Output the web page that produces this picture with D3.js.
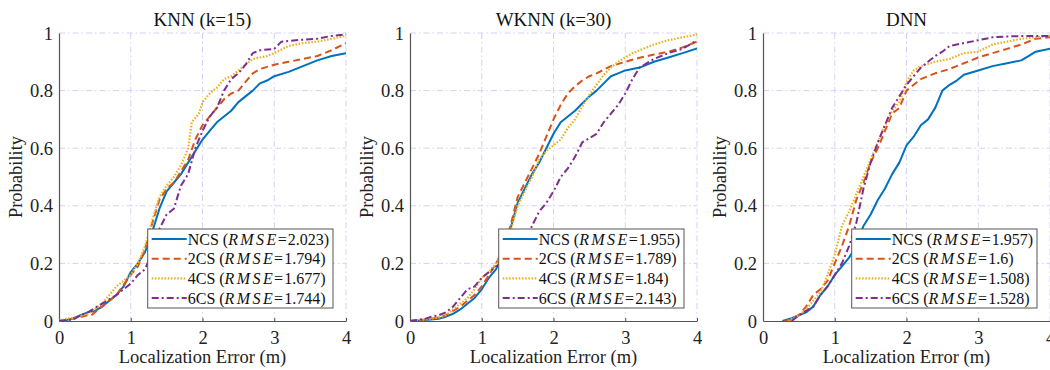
<!DOCTYPE html>
<html><head><meta charset="utf-8">
<script src="https://cdn.jsdelivr.net/npm/d3@7"></script>
<style>
body{margin:0;background:#fff}
svg{display:block}
svg text{font-family:"Liberation Serif","DejaVu Serif","Times New Roman",serif !important;}
</style>
</head><body>
<svg id="c" width="1050" height="370"></svg>
<script>
const titles = ["KNN (k=15)", "WKNN (k=30)", "DNN"];
const seriesNames = ["NCS", "2CS", "4CS", "6CS"];
const xTicks = [0, 1, 2, 3, 4];
const yTicks = [0, 0.2, 0.4, 0.6, 0.8, 1];
const yTickLabels = ["0", "0.2", "0.4", "0.6", "0.8", "1"];
const rmseKNN = ["2.023", "1.794", "1.677", "1.744"];
const rmseWKNN = ["1.955", "1.789", "1.84", "2.143"];
const rmseDNN = ["1.957", "1.6", "1.508", "1.528"];

const knnNCS = [[0,0],[0.1,0.003],[0.2,0.01],[0.3,0.02],[0.4,0.03],[0.5,0.035],[0.6,0.05],[0.7,0.07],[0.8,0.09],[0.9,0.12],[1.0,0.17],[1.1,0.2],[1.2,0.24],[1.3,0.31],[1.4,0.39],[1.5,0.45],[1.6,0.48],[1.7,0.51],[1.8,0.55],[1.9,0.59],[2.0,0.63],[2.1,0.66],[2.2,0.69],[2.3,0.71],[2.4,0.73],[2.5,0.76],[2.6,0.78],[2.7,0.80],[2.8,0.825],[2.9,0.835],[3.0,0.85],[3.2,0.865],[3.4,0.885],[3.6,0.905],[3.8,0.92],[4.0,0.93]];
const knn2CS = [[0,0],[0.2,0.008],[0.4,0.02],[0.45,0.02],[0.6,0.05],[0.8,0.09],[1.0,0.16],[1.1,0.19],[1.2,0.25],[1.3,0.34],[1.4,0.42],[1.5,0.46],[1.6,0.48],[1.7,0.52],[1.8,0.56],[1.9,0.63],[2.0,0.68],[2.1,0.71],[2.2,0.74],[2.3,0.77],[2.4,0.79],[2.5,0.80],[2.6,0.83],[2.7,0.86],[2.8,0.875],[3.0,0.89],[3.2,0.90],[3.4,0.91],[3.6,0.92],[3.8,0.94],[4.0,0.965]];
const knn4CS = [[0,0],[0.1,0.008],[0.2,0.01],[0.4,0.025],[0.6,0.06],[0.8,0.12],[1.0,0.16],[1.1,0.2],[1.2,0.26],[1.3,0.35],[1.4,0.43],[1.5,0.47],[1.6,0.50],[1.7,0.54],[1.8,0.6],[1.85,0.69],[1.95,0.72],[2.0,0.76],[2.1,0.79],[2.2,0.81],[2.3,0.84],[2.4,0.85],[2.5,0.87],[2.6,0.89],[2.7,0.91],[2.9,0.92],[3.0,0.93],[3.2,0.955],[3.4,0.965],[3.6,0.97],[3.8,0.98],[4.0,0.99]];
const knn6CS = [[0,0],[0.2,0.005],[0.3,0.02],[0.4,0.03],[0.5,0.045],[0.6,0.06],[0.7,0.075],[0.8,0.09],[0.9,0.11],[1.0,0.13],[1.1,0.16],[1.2,0.18],[1.3,0.24],[1.4,0.32],[1.5,0.37],[1.6,0.39],[1.7,0.47],[1.8,0.51],[1.9,0.6],[2.0,0.66],[2.1,0.71],[2.2,0.74],[2.3,0.8],[2.4,0.84],[2.5,0.86],[2.6,0.89],[2.7,0.93],[2.8,0.94],[3.0,0.945],[3.1,0.97],[3.3,0.975],[3.6,0.98],[3.8,0.99],[4.0,0.995]];

const wknnNCS = [[0,0],[0.2,0.003],[0.4,0.008],[0.5,0.015],[0.6,0.025],[0.7,0.04],[0.8,0.06],[0.9,0.08],[1.0,0.11],[1.1,0.15],[1.2,0.18],[1.3,0.23],[1.4,0.32],[1.5,0.41],[1.6,0.46],[1.7,0.51],[1.8,0.55],[1.9,0.6],[2.0,0.65],[2.1,0.69],[2.2,0.71],[2.3,0.73],[2.4,0.755],[2.5,0.78],[2.6,0.8],[2.7,0.825],[2.8,0.85],[2.9,0.86],[3.0,0.87],[3.2,0.88],[3.4,0.90],[3.6,0.915],[3.8,0.93],[4.0,0.946]];
const wknn2CS = [[0,0],[0.2,0.005],[0.4,0.012],[0.5,0.02],[0.6,0.035],[0.7,0.05],[0.8,0.07],[0.9,0.09],[1.0,0.12],[1.1,0.16],[1.2,0.2],[1.3,0.25],[1.4,0.33],[1.5,0.43],[1.6,0.48],[1.7,0.53],[1.8,0.58],[1.9,0.64],[2.0,0.7],[2.1,0.75],[2.2,0.79],[2.3,0.815],[2.4,0.835],[2.5,0.85],[2.6,0.86],[2.8,0.885],[3.0,0.9],[3.2,0.914],[3.4,0.925],[3.6,0.935],[3.8,0.95],[4.0,0.97]];
const wknn4CS = [[0,0],[0.2,0.005],[0.4,0.012],[0.5,0.02],[0.6,0.04],[0.7,0.06],[0.8,0.08],[0.9,0.11],[1.0,0.15],[1.1,0.17],[1.2,0.2],[1.3,0.25],[1.4,0.31],[1.5,0.40],[1.6,0.45],[1.7,0.5],[1.8,0.56],[1.9,0.59],[2.0,0.61],[2.1,0.63],[2.2,0.67],[2.3,0.7],[2.4,0.745],[2.5,0.785],[2.6,0.82],[2.7,0.855],[2.8,0.88],[2.9,0.9],[3.0,0.915],[3.1,0.93],[3.3,0.95],[3.4,0.96],[3.6,0.975],[3.8,0.985],[4.0,0.995]];
const wknn6CS = [[0,0],[0.2,0.007],[0.3,0.015],[0.4,0.02],[0.5,0.03],[0.6,0.05],[0.7,0.08],[0.8,0.11],[0.9,0.12],[1.0,0.15],[1.1,0.17],[1.2,0.19],[1.3,0.2],[1.4,0.22],[1.5,0.24],[1.6,0.27],[1.7,0.33],[1.8,0.38],[1.9,0.41],[2.0,0.45],[2.1,0.5],[2.2,0.53],[2.3,0.57],[2.4,0.62],[2.5,0.635],[2.6,0.65],[2.7,0.69],[2.8,0.72],[2.9,0.75],[3.0,0.79],[3.1,0.84],[3.2,0.88],[3.4,0.91],[3.6,0.93],[3.8,0.945],[4.0,0.975]];

const dnnNCS = [[0.27,0],[0.4,0.01],[0.5,0.02],[0.6,0.03],[0.7,0.05],[0.8,0.09],[0.9,0.12],[1.0,0.16],[1.1,0.19],[1.2,0.22],[1.3,0.26],[1.4,0.33],[1.5,0.37],[1.6,0.42],[1.7,0.46],[1.8,0.51],[1.9,0.55],[2.0,0.61],[2.1,0.64],[2.2,0.68],[2.3,0.7],[2.4,0.74],[2.5,0.8],[2.6,0.82],[2.7,0.835],[2.8,0.855],[3.0,0.87],[3.2,0.885],[3.4,0.895],[3.6,0.905],[3.7,0.92],[3.8,0.935],[4.0,0.945]];
const dnn2CS = [[0.3,0],[0.4,0.005],[0.5,0.02],[0.6,0.05],[0.7,0.09],[0.8,0.11],[0.9,0.14],[1.0,0.2],[1.1,0.26],[1.2,0.33],[1.3,0.42],[1.4,0.48],[1.5,0.55],[1.6,0.6],[1.7,0.66],[1.8,0.72],[1.9,0.74],[2.0,0.8],[2.1,0.82],[2.2,0.84],[2.4,0.86],[2.6,0.875],[2.8,0.895],[3.0,0.915],[3.2,0.93],[3.4,0.945],[3.6,0.96],[3.8,0.98],[4.0,0.985]];
const dnn4CS = [[0.35,0],[0.5,0.02],[0.6,0.04],[0.7,0.07],[0.8,0.1],[0.9,0.16],[1.0,0.23],[1.1,0.33],[1.2,0.38],[1.3,0.44],[1.4,0.5],[1.5,0.56],[1.6,0.62],[1.7,0.68],[1.8,0.73],[1.9,0.76],[2.0,0.83],[2.1,0.87],[2.2,0.885],[2.4,0.9],[2.6,0.91],[2.8,0.93],[3.0,0.935],[3.2,0.96],[3.4,0.97],[3.6,0.98],[3.8,0.985],[4.0,0.99]];
const dnn6CS = [[0.4,0],[0.5,0.02],[0.6,0.035],[0.7,0.05],[0.8,0.09],[0.9,0.12],[1.0,0.16],[1.1,0.2],[1.2,0.26],[1.3,0.34],[1.4,0.46],[1.5,0.55],[1.6,0.62],[1.7,0.68],[1.8,0.74],[1.9,0.78],[2.0,0.82],[2.1,0.85],[2.2,0.88],[2.3,0.9],[2.4,0.92],[2.5,0.935],[2.6,0.955],[2.8,0.965],[3.0,0.975],[3.2,0.985],[3.4,0.988],[3.7,0.99],[4.0,0.99]];

const panels = [
  {title: titles[0], series: [knnNCS, knn2CS, knn4CS, knn6CS], rmse: rmseKNN},
  {title: titles[1], series: [wknnNCS, wknn2CS, wknn4CS, wknn6CS], rmse: rmseWKNN},
  {title: titles[2], series: [dnnNCS, dnn2CS, dnn4CS, dnn6CS], rmse: rmseDNN}
];

const colors = ["#0072BD", "#D95319", "#EDB120", "#7E2F8E"];
const dashes = [null, "7,4", "1.6,1.6", "7,3,2,3"];
const lefts = [59, 410, 763];
const pw = 287, pTop = 33, pBottom = 321;

const svg = d3.select("#c");
svg.append("defs").selectAll("clipPath").data(lefts).join("clipPath")
  .attr("id", (d, i) => "clip" + i)
  .append("rect").attr("x", d => d).attr("y", pTop - 2).attr("width", pw).attr("height", pBottom - pTop + 2);

panels.forEach((p, i) => {
  const L = lefts[i];
  const x = d3.scaleLinear().domain([0, 4]).range([L, L + pw]);
  const y = d3.scaleLinear().domain([0, 1]).range([pBottom, pTop]);
  const g = svg.append("g");

  const grid = g.append("g").attr("stroke", "#d2d2f6").attr("stroke-width", 1)
    .attr("stroke-dasharray", "6,3,1.5,3");
  grid.selectAll(".gx").data(xTicks.filter(t => t > 0)).join("line")
    .attr("x1", d => x(d)).attr("x2", d => x(d)).attr("y1", pTop).attr("y2", pBottom);
  grid.selectAll(".gy").data(yTicks.filter(t => t > 0)).join("line")
    .attr("x1", L).attr("x2", L + pw).attr("y1", d => y(d)).attr("y2", d => y(d));

  const xa = g.append("g").attr("transform", `translate(0,${pBottom})`)
    .call(d3.axisBottom(x).tickValues(xTicks).tickFormat(d3.format("d")).tickSizeInner(-3).tickSizeOuter(0).tickPadding(10));
  const ya = g.append("g").attr("transform", `translate(${L},0)`)
    .call(d3.axisLeft(y).tickValues(yTicks).tickFormat((d, k) => yTickLabels[k]).tickSizeInner(0).tickSizeOuter(0).tickPadding(6));
  [xa, ya].forEach(a => {
    a.attr("font-family", null);
    a.select(".domain").attr("stroke", "#555").attr("stroke-width", 1.2);
    a.selectAll(".tick line").attr("stroke", "#555");
    a.selectAll("text").attr("font-size", 18.5).attr("fill", "#222");
  });
  ya.selectAll("text").attr("dy", "0.33em");

  const line = d3.line().x(d => x(d[0])).y(d => y(d[1]));
  const lg = g.append("g").attr("clip-path", `url(#clip${i})`);
  p.series.forEach((s, k) => {
    lg.append("path").datum(s).attr("d", line).attr("fill", "none")
      .attr("stroke", colors[k]).attr("stroke-width", k === 2 ? 2.2 : 2)
      .attr("stroke-dasharray", dashes[k]).attr("stroke-linejoin", "round");
  });

  g.append("text").attr("x", L + pw / 2).attr("y", 26).attr("text-anchor", "middle")
    .attr("font-size", 19).attr("fill", "#111").text(p.title);
  g.append("text").attr("x", L + pw / 2).attr("y", 363).attr("text-anchor", "middle")
    .attr("font-size", 18.5).attr("fill", "#222").text("Localization Error (m)");
  g.append("text").attr("transform", `translate(${L - 37},${(pTop + pBottom) / 2}) rotate(-90)`)
    .attr("text-anchor", "middle").attr("font-size", 18.5).attr("fill", "#222").text("Probability");

  const leg = g.append("g");
  const box = leg.append("rect").attr("fill", "#fff").attr("stroke", "#555").attr("stroke-width", 1);
  const rowsG = leg.append("g");
  p.series.forEach((s, k) => {
    const ry = 10 + k * 19.7;
    rowsG.append("line").attr("x1", 4).attr("x2", 39).attr("y1", ry).attr("y2", ry)
      .attr("stroke", colors[k]).attr("stroke-width", k === 2 ? 2.2 : 2).attr("stroke-dasharray", dashes[k]);
    const t = rowsG.append("text").attr("x", 40).attr("y", ry + 5.5)
      .attr("font-size", 16).attr("fill", "#111");
    t.append("tspan").text(seriesNames[k] + " (");
    t.append("tspan").attr("font-style", "italic").attr("letter-spacing", 2.4).text("RMSE");
    t.append("tspan").attr("dx", -1).text("=");
    t.append("tspan").attr("dx", 1).text(p.rmse[k] + ")");
  });
  const bb = rowsG.node().getBBox();
  const bw = bb.x + bb.width + 4, bh = 79;
  box.attr("width", bw).attr("height", bh);
  leg.attr("transform", `translate(${L + pw - 13 - bw},${pBottom - 13 - bh})`);
});
</script>
</body></html>
